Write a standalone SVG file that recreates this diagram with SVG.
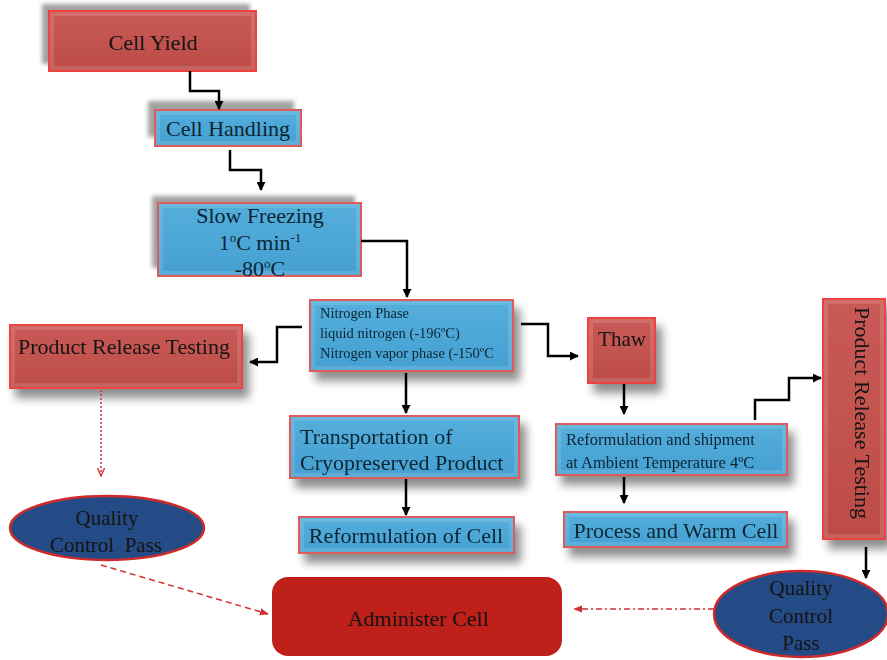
<svg xmlns="http://www.w3.org/2000/svg" width="887" height="660" viewBox="0 0 887 660">
<defs>
<linearGradient id="gr" x1="0" y1="0" x2="0" y2="1"><stop offset="0" stop-color="#c95a56"/><stop offset="1" stop-color="#bd4c48"/></linearGradient>
<linearGradient id="gb" x1="0" y1="0" x2="0" y2="1"><stop offset="0" stop-color="#55aedb"/><stop offset="1" stop-color="#45a0d2"/></linearGradient>
<filter id="sh" x="-20%" y="-20%" width="150%" height="170%"><feGaussianBlur in="SourceAlpha" stdDeviation="5"/><feOffset dx="6" dy="9"/><feComponentTransfer><feFuncA type="linear" slope="0.45"/></feComponentTransfer><feMerge><feMergeNode/><feMergeNode in="SourceGraphic"/></feMerge></filter>
<filter id="bl" x="-10%" y="-20%" width="120%" height="140%"><feGaussianBlur stdDeviation="2"/></filter>
<marker id="ak" viewBox="0 0 10 10" refX="9" refY="5" markerWidth="9" markerHeight="9" markerUnits="userSpaceOnUse" orient="auto"><path d="M0,0 L10,5 L0,10 Z" fill="#000"/></marker>
<marker id="ar" viewBox="0 0 10 10" refX="9" refY="5" markerWidth="9" markerHeight="9" markerUnits="userSpaceOnUse" orient="auto"><path d="M0,1 L9,5 L0,9" fill="none" stroke="#d03030" stroke-width="1.5"/></marker>
<marker id="arf" viewBox="0 0 10 10" refX="9" refY="5" markerWidth="9" markerHeight="9" markerUnits="userSpaceOnUse" orient="auto"><path d="M0,1 L10,5 L0,9 Z" fill="#d03030"/></marker>
</defs>
<style>
.red{fill:url(#gr);stroke:#f04040;stroke-width:2}
.blue{fill:url(#gb);stroke:#e05a5a;stroke-width:2}
.bev{fill:none;stroke:#ffffff;stroke-opacity:0.13;stroke-width:4}
.gs{fill:#8a8a8a;opacity:0.8}
.t{font-family:"Liberation Serif",serif;fill:#141414}
.tb{font-family:"Liberation Serif",serif;fill:#0b2533}
.c{text-anchor:middle}
.ln{fill:none;stroke:#000;stroke-width:2.5}
</style>
<rect width="887" height="660" fill="#fff"/>
<g id="cell-yield">
<rect class="gs" x="42" y="4" width="208" height="60" filter="url(#bl)"/>
<rect class="red" x="49" y="11" width="207" height="60"/>
<rect class="bev" x="52" y="14" width="201" height="54"/>
<text class="t c" x="153" y="50" font-size="22">Cell Yield</text>
</g>
<g id="cell-handling">
<rect class="gs" x="148" y="101" width="146" height="36" filter="url(#bl)"/>
<rect class="blue" x="155" y="110" width="146" height="36"/>
<rect class="bev" x="158" y="113" width="140" height="30"/>
<text class="tb c" x="228" y="136" font-size="22">Cell Handling</text>
</g>
<g id="slow-freezing">
<rect class="gs" x="152" y="196" width="203" height="72" filter="url(#bl)"/>
<rect class="blue" x="158" y="203" width="203" height="73"/>
<rect class="bev" x="161" y="206" width="197" height="67"/>
<text class="tb c" x="260" y="223" font-size="22">Slow Freezing</text>
<text class="tb c" x="260" y="250" font-size="22">1<tspan font-size="13" dy="-8">o</tspan><tspan dy="8">C min</tspan><tspan font-size="13" dy="-8">-1</tspan></text>
<text class="tb c" x="260" y="276" font-size="22">-80<tspan font-size="13" dy="-8">o</tspan><tspan dy="8">C</tspan></text>
</g>
<g id="nitrogen-phase" filter="url(#sh)">
<rect class="blue" x="310" y="300" width="203" height="71"/>
<rect class="bev" x="313" y="303" width="197" height="65"/>
<text class="tb" x="320" y="318" font-size="14.5">Nitrogen Phase</text>
<text class="tb" x="320" y="338" font-size="14.5">liquid nitrogen (-196ºC)</text>
<text class="tb" x="320" y="358" font-size="14.5">Nitrogen vapor phase (-150ºC</text>
</g>
<g id="product-release-left" filter="url(#sh)">
<rect class="red" x="10" y="325" width="232" height="63"/>
<rect class="bev" x="13" y="328" width="226" height="57"/>
<text class="t c" x="124" y="354" font-size="22">Product Release Testing</text>
</g>
<g id="qc-left">
<ellipse cx="107" cy="528" rx="97" ry="32" fill="#254b86" stroke="#d02a2a" stroke-width="2.5"/>
<text class="t c" x="107" y="525" font-size="21">Quality</text>
<text class="t c" x="106" y="552" font-size="21" xml:space="preserve">Control  Pass</text>
</g>
<g id="transportation" filter="url(#sh)">
<rect class="blue" x="290" y="416" width="229" height="62"/>
<rect class="bev" x="293" y="419" width="223" height="56"/>
<text class="tb" x="300" y="444" font-size="22">Transportation of</text>
<text class="tb" x="300" y="470" font-size="22">Cryopreserved Product</text>
</g>
<g id="reformulation-cell" filter="url(#sh)">
<rect class="blue" x="299" y="517" width="215" height="36"/>
<rect class="bev" x="302" y="520" width="209" height="30"/>
<text class="tb c" x="406" y="543" font-size="22">Reformulation of Cell</text>
</g>
<g id="thaw" filter="url(#sh)">
<rect class="red" x="588" y="318" width="67" height="65"/>
<rect class="bev" x="591" y="321" width="61" height="59"/>
<text class="t c" x="622" y="346" font-size="21">Thaw</text>
</g>
<g id="reformulation-shipment" filter="url(#sh)">
<rect class="blue" x="556" y="424" width="231" height="51"/>
<rect class="bev" x="559" y="427" width="225" height="45"/>
<text class="tb" x="566" y="445" font-size="16.5">Reformulation and shipment</text>
<text class="tb" x="566" y="468" font-size="16.5">at Ambient Temperature 4ºC</text>
</g>
<g id="process-warm" filter="url(#sh)">
<rect class="blue" x="564" y="512" width="223" height="35"/>
<rect class="bev" x="567" y="515" width="217" height="29"/>
<text class="tb c" x="676" y="538" font-size="22">Process and Warm Cell</text>
</g>
<g id="product-release-right" filter="url(#sh)">
<rect class="red" x="823" y="299" width="62" height="240"/>
<rect class="bev" x="826" y="302" width="56" height="234"/>
<text class="t c" transform="translate(855,413) rotate(90)" font-size="22">Product Release Testing</text>
</g>
<g id="qc-right">
<ellipse cx="801" cy="614" rx="87" ry="43" fill="#254b86" stroke="#d02a2a" stroke-width="2.5"/>
<text class="t c" x="801" y="595" font-size="21">Quality</text>
<text class="t c" x="801" y="623" font-size="21">Control</text>
<text class="t c" x="801" y="650" font-size="21">Pass</text>
</g>
<g id="administer-cell">
<rect x="272" y="577" width="290" height="79" rx="16" fill="#c0201a"/>
<text class="t c" x="418" y="626" font-size="22">Administer Cell</text>
</g>
<g id="connectors">
<path class="ln" d="M190,71 V91 H219 V109" marker-end="url(#ak)"/>
<path class="ln" d="M230,150 V170 H261 V190" marker-end="url(#ak)"/>
<path class="ln" d="M361,241 H407 V297" marker-end="url(#ak)"/>
<path class="ln" d="M302,327 H277 V362 H250" marker-end="url(#ak)"/>
<path class="ln" d="M521,324 H548 V356 H578" marker-end="url(#ak)"/>
<path class="ln" d="M406,373 V413" marker-end="url(#ak)"/>
<path class="ln" d="M406,479 V515" marker-end="url(#ak)"/>
<path class="ln" d="M624,384 V414" marker-end="url(#ak)"/>
<path class="ln" d="M624,477 V503" marker-end="url(#ak)"/>
<path class="ln" d="M755,420 V400 H789 V378 H821" marker-end="url(#ak)"/>
<path class="ln" d="M866,547 V578" marker-end="url(#ak)"/>
<path d="M101,390 V476" fill="none" stroke="#d03030" stroke-width="1.5" stroke-dasharray="2,2" marker-end="url(#ar)"/>
<path d="M101,565 L268,614" fill="none" stroke="#d03030" stroke-width="1.5" stroke-dasharray="6,4" marker-end="url(#arf)"/>
<path d="M714,609 H574" fill="none" stroke="#d03030" stroke-width="1.5" stroke-dasharray="6,3,2,3" marker-end="url(#arf)"/>
</g>
</svg>
